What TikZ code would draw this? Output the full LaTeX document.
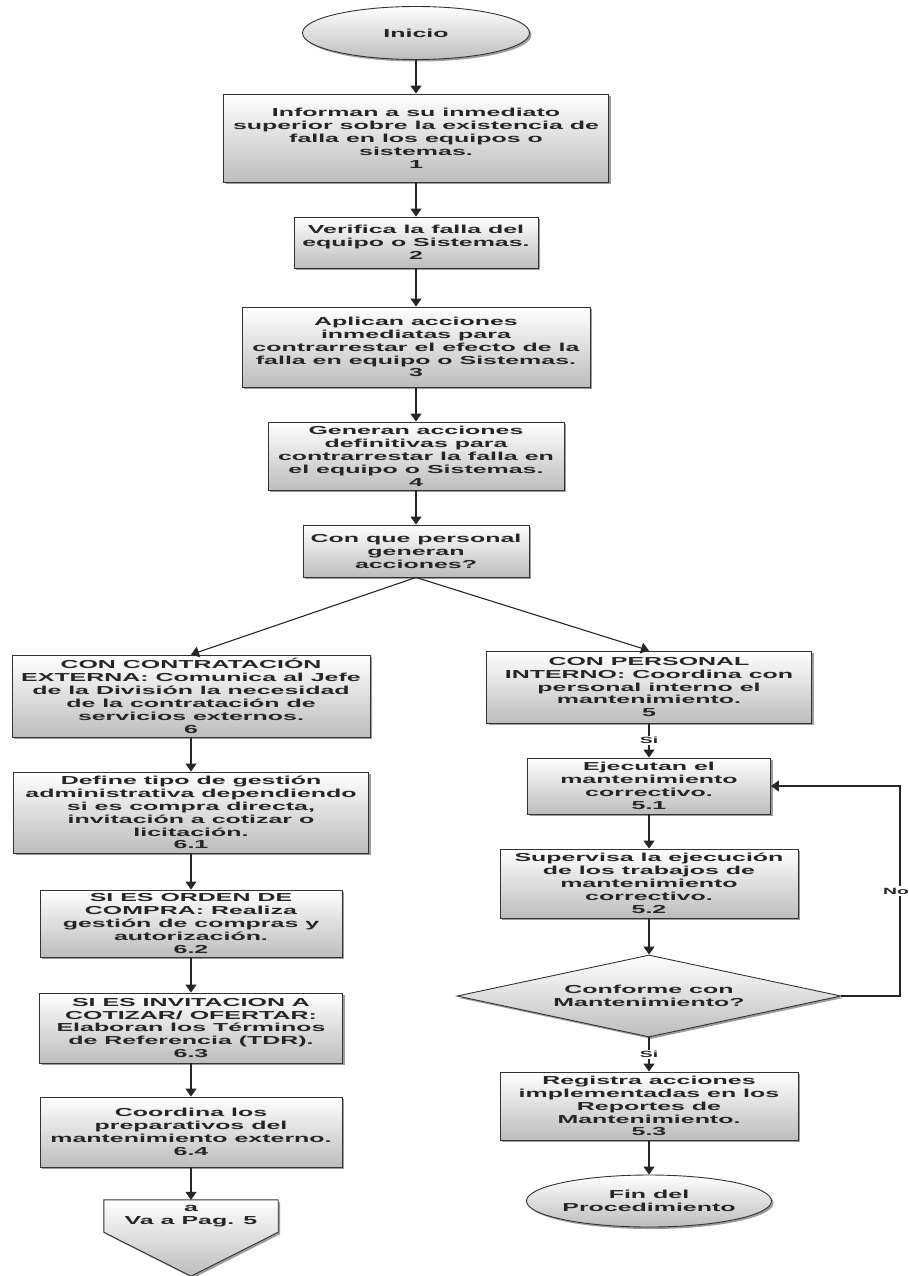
\documentclass[tikz,border=0pt]{standalone}
\usepackage{fontspec}
\setmainfont{Liberation Sans}[FakeStretch=2.15]
\usepackage{tikz}
\usetikzlibrary{arrows.meta,positioning,shapes.geometric,shadows,backgrounds}
\definecolor{boxline}{HTML}{333333}
\definecolor{boxgray}{HTML}{BDBDBD}
\tikzset{
  basenode/.style={draw=boxline,line width=0.9pt,align=center,inner sep=1pt,
    font=\bfseries\fontsize{11.6}{12.9}\selectfont,text=black!85,
    top color=white,bottom color=boxgray,
    drop shadow={shadow xshift=2pt,shadow yshift=-2pt,fill=black!55,opacity=0.7}},
  stepbox/.style={basenode,rectangle},
  termnode/.style={basenode,ellipse,inner sep=0pt},
  decnode/.style={basenode,diamond,aspect=4.7,inner sep=0pt},
  pagtext/.style={align=center,inner sep=0pt,font=\bfseries\fontsize{11.6}{12.9}\selectfont,text=black!85},
  pagshape/.style={draw=boxline,line width=0.9pt,top color=white,bottom color=boxgray,
    drop shadow={shadow xshift=2pt,shadow yshift=-2pt,fill=black!55,opacity=0.7}},
  flowedge/.style={-{Triangle[width=11pt,length=8pt]},line width=1.1pt,black!85},
  edgelbl/.style={fill=white,inner sep=1.5pt,font=\bfseries\fontsize{9}{10}\selectfont,text=black!85},
}

\begin{document}
\begin{tikzpicture}[x=1pt,y=-1pt]
  \useasboundingbox (0,0) rectangle (909,1276);
  \node[termnode,minimum width=227pt,minimum height=53pt] (inicio) at (416,33) {Inicio};
  \node[stepbox,minimum width=385pt,minimum height=88pt] (p1) at (416,138) {Informan a su inmediato\\superior sobre la existencia de\\falla en los equipos o\\sistemas.\\1};
  \node[stepbox,minimum width=244pt,minimum height=51pt] (p2) at (416,242.5) {Verifica la falla del\\equipo o Sistemas.\\2};
  \node[stepbox,minimum width=348pt,minimum height=80pt] (p3) at (416,347) {Aplican  acciones\\inmediatas para\\contrarrestar el efecto de la\\falla en equipo o Sistemas.\\3};
  \node[stepbox,minimum width=296pt,minimum height=68pt] (p4) at (416,456) {Generan acciones\\definitivas para\\contrarrestar la falla en\\el equipo o Sistemas.\\4};
  \node[stepbox,minimum width=226pt,minimum height=52pt] (quien) at (416,551) {Con que personal\\generan\\acciones?};

  \node[stepbox,minimum width=358pt,minimum height=82pt] (p6) at (191,696) {CON CONTRATACIÓN\\EXTERNA: Comunica al Jefe\\de la División la necesidad\\de la contratación de\\servicios externos.\\6};
  \node[stepbox,minimum width=355pt,minimum height=81pt] (p61) at (191,812.5) {Define tipo de gestión\\administrativa dependiendo\\si es compra directa,\\invitación a cotizar o\\licitación.\\6.1};
  \node[stepbox,minimum width=302pt,minimum height=67pt] (p62) at (191,923.5) {SI ES ORDEN DE\\COMPRA: Realiza\\gestión de compras y\\autorización.\\6.2};
  \node[stepbox,minimum width=303pt,minimum height=70pt] (p63) at (191,1028) {SI ES INVITACION A\\COTIZAR/ OFERTAR:\\Elaboran los Términos\\de Referencia (TDR).\\6.3};
  \node[stepbox,minimum width=302pt,minimum height=70pt] (p64) at (191,1132) {Coordina  los\\preparativos del\\mantenimiento externo.\\6.4};
  \node[pagtext,minimum width=174pt,minimum height=32pt] (pag) at (191,1216) {a\\Va a Pag. 5};

  \node[stepbox,minimum width=325pt,minimum height=72pt] (p5) at (649,687) {CON PERSONAL\\INTERNO:  Coordina  con\\personal interno  el\\mantenimiento.\\5};
  \node[stepbox,minimum width=243pt,minimum height=56pt] (p51) at (649,786) {Ejecutan el\\mantenimiento\\correctivo.\\5.1};
  \node[stepbox,minimum width=298pt,minimum height=69pt] (p52) at (649,883.5) {Supervisa la ejecución\\de los trabajos de\\mantenimiento\\correctivo.\\5.2};
  \node[decnode,minimum width=384pt,minimum height=82pt] (conforme) at (649,996) {Conforme con\\Mantenimiento?};
  \node[stepbox,minimum width=298pt,minimum height=68pt] (p53) at (649,1106) {Registra acciones\\implementadas en los\\Reportes de\\Mantenimiento.\\5.3};
  \node[termnode,minimum width=223pt,minimum height=52pt] (fin) at (649,1201) {Fin del\\Procedimiento};
  \coordinate (retorno) at (900,996);

  \begin{scope}[on background layer]
    \draw[pagshape] (pag.north west) -- (pag.north east) -- (pag.south east) -- ([yshift=-44pt]pag.south) -- (pag.south west) -- cycle;
  \end{scope}

  \draw[flowedge] (inicio) -- (p1);
  \draw[flowedge] (p1) -- (p2);
  \draw[flowedge] (p2) -- (p3);
  \draw[flowedge] (p3) -- (p4);
  \draw[flowedge] (p4) -- (quien);
  \draw[flowedge] (quien.south) -- (p6.north);
  \draw[flowedge] (quien.south) -- (p5.north);
  \draw[flowedge] (p6) -- (p61);
  \draw[flowedge] (p61) -- (p62);
  \draw[flowedge] (p62) -- (p63);
  \draw[flowedge] (p63) -- (p64);
  \draw[flowedge] (p64) -- (pag.north);
  \draw[flowedge] (p5) -- node[edgelbl] {Si} (p51);
  \draw[flowedge] (p51) -- (p52);
  \draw[flowedge] (p52) -- (conforme);
  \draw[flowedge] (conforme) -- node[edgelbl] {Si} (p53);
  \draw[flowedge] (p53) -- (fin);
  \draw[flowedge] (conforme.east) -- (retorno) |- node[edgelbl,pos=0.25,xshift=-4pt] {No} (p51.east);
\end{tikzpicture}
\end{document}
